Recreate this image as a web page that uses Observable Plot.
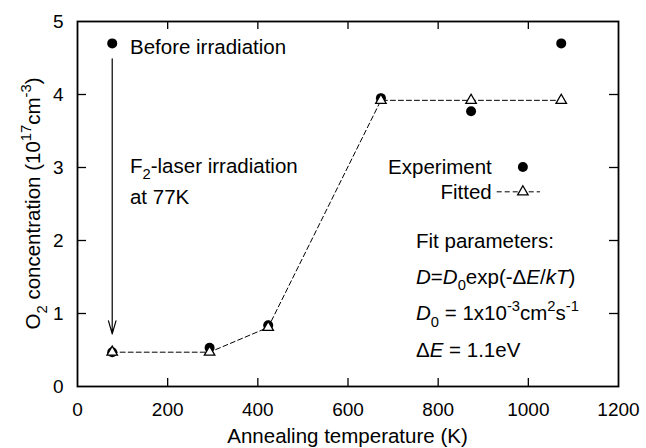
<!DOCTYPE html>
<html><head><meta charset="utf-8">
<script src="https://cdn.jsdelivr.net/npm/d3@7"></script>
<script src="https://cdn.jsdelivr.net/npm/@observablehq/plot@0.6"></script>
<style>
body{margin:0;background:#fff}
svg{font-family:"Liberation Sans",Arial,Helvetica,sans-serif}
</style>
</head><body><div id="chart"></div>
<script>
// ---- data ----
const temperature = [77, 293, 423, 673, 873, 1073];
const experiment  = [0.47, 0.53, 0.84, 3.95, 3.77, 4.70];
const fitted      = [0.47, 0.47, 0.81, 3.92, 3.92, 3.92];
const beforeT = [77];
const beforeValue = [4.70];
const arrowT = [77];
const arrowFrom = [4.49];
const arrowTo = [0.72];
const xTicks = [0, 200, 400, 600, 800, 1000, 1200];
const yTicks = [0, 1, 2, 3, 4, 5];

// ---- tables ----
const expRows = temperature.map((t, i) => ({t, v: experiment[i]}));
const fitRows = temperature.map((t, i) => ({t, v: fitted[i]}));
const beforeRows = beforeT.map((t, i) => ({t, v: beforeValue[i]}));
const arrowRows = arrowT.map((t, i) => ({t, from: arrowFrom[i], to: arrowTo[i]}));
const xInner = xTicks.slice(1, -1);
const yInner = yTicks.slice(1, -1);

const FS = 20.5;
const chart = Plot.plot({
  width: 646, height: 448,
  marginLeft: 77, marginRight: 28, marginTop: 21, marginBottom: 62,
  style: {fontFamily: "'Liberation Sans', Arial, sans-serif", background: "white", color: "black"},
  x: {domain: [0, 1200]},
  y: {domain: [0, 5]},
  marks: [
    Plot.axisX(xTicks, {tickSize: 0, tickPadding: 16, fontSize: 19, label: null, tickFormat: d => String(d)}),
    Plot.axisY(yTicks, {tickSize: 0, tickPadding: 14, fontSize: 19, label: null, tickFormat: d => String(d)}),
    Plot.ruleX(xInner, {y1: 0, y2: 0.11, strokeWidth: 1.3}),
    Plot.ruleX(xInner, {y1: 5, y2: 4.89, strokeWidth: 1.3}),
    Plot.ruleY(yInner, {x1: 0, x2: 20, strokeWidth: 1.3}),
    Plot.ruleY(yInner, {x1: 1200, x2: 1180, strokeWidth: 1.3}),
    Plot.frame({stroke: "black", strokeWidth: 1.8}),
    Plot.arrow(arrowRows, {x1: "t", y1: "from", x2: "t", y2: "to", headLength: 17, headAngle: 32, strokeWidth: 1.2, stroke: "black"}),
    Plot.line(fitRows, {x: "t", y: "v", stroke: "black", strokeWidth: 1, strokeDasharray: "5,3"}),
    Plot.dot(expRows, {x: "t", y: "v", r: 5, fill: "black"}),
    Plot.dot(beforeRows, {x: "t", y: "v", r: 5, fill: "black"}),
    Plot.dot(fitRows, {x: "t", y: "v", symbol: "triangle", r: 3.9, fill: "white", stroke: "black", strokeWidth: 1.3})
  ]
});
document.getElementById("chart").appendChild(chart);

const xs = chart.scale("x"), ys = chart.scale("y");
const svg = d3.select(chart);

function rich(x, y, parts, opts = {}) {
  const fs = opts.fontSize || FS;
  const t = svg.append("text")
    .attr("x", x).attr("y", y)
    .attr("font-size", fs)
    .attr("fill", "black")
    .attr("text-anchor", opts.anchor || "start");
  if (opts.transform) t.attr("transform", opts.transform);
  let shift = 0;
  for (const p of parts) {
    const s = typeof p === "string" ? {t: p} : p;
    let target = 0;
    if (s.sub) target = fs * 0.32;
    if (s.sup) target = -fs * 0.42;
    const ts = t.append("tspan").text(s.t).attr("dy", target - shift);
    shift = target;
    if (s.sub || s.sup) ts.attr("font-size", fs * 0.72);
    if (s.it) ts.attr("font-style", "italic");
  }
  return t;
}

// annotations, placed through the scales
rich(xs.apply(117.5), ys.apply(4.65) + 7, ["Before irradiation"]);
rich(xs.apply(117.5), ys.apply(3.02) + 7, ["F", {t: "2", sub: true}, "-laser irradiation"]);
rich(xs.apply(117.5), ys.apply(2.59) + 7, ["at 77K"]);

rich(xs.apply(752), ys.apply(1.99) + 7, ["Fit parameters:"]);
rich(xs.apply(752), ys.apply(1.50) + 7, [{t: "D", it: true}, "=", {t: "D", it: true}, {t: "0", sub: true}, "exp(-Δ", {t: "E", it: true}, "/", {t: "kT", it: true}, ")"]);
rich(xs.apply(752), ys.apply(1.00) + 7, [{t: "D", it: true}, {t: "0", sub: true}, " = 1x10", {t: "-3", sup: true}, "cm", {t: "2", sup: true}, "s", {t: "-1", sup: true}]);
rich(xs.apply(752), ys.apply(0.49) + 7, ["Δ", {t: "E", it: true}, " = 1.1eV"]);

// legend
rich(xs.apply(920), ys.apply(3.0) + 7, ["Experiment"], {anchor: "end"});
rich(xs.apply(920), ys.apply(2.66) + 7, ["Fitted"], {anchor: "end"});
svg.append("circle").attr("cx", xs.apply(989)).attr("cy", ys.apply(3.0)).attr("r", 5).attr("fill", "black");
svg.append("line").attr("x1", xs.apply(931)).attr("x2", xs.apply(1027))
  .attr("y1", ys.apply(2.66)).attr("y2", ys.apply(2.66))
  .attr("stroke", "black").attr("stroke-dasharray", "5,3");
svg.append("path").attr("transform", `translate(${xs.apply(989)},${ys.apply(2.66)})`)
  .attr("d", d3.symbol(d3.symbolTriangle, 3.9 * 3.9 * Math.PI)())
  .attr("fill", "white").attr("stroke", "black").attr("stroke-width", 1.3);

// axis titles
rich(xs.apply(600), 443, ["Annealing temperature (K)"], {anchor: "middle"});
rich(0, 0, ["O", {t: "2", sub: true}, " concentration (10", {t: "17", sup: true}, "cm", {t: "-3", sup: true}, ")"],
  {anchor: "middle", transform: `translate(40,${ys.apply(2.5)}) rotate(-90)`});
</script>
</body></html>
